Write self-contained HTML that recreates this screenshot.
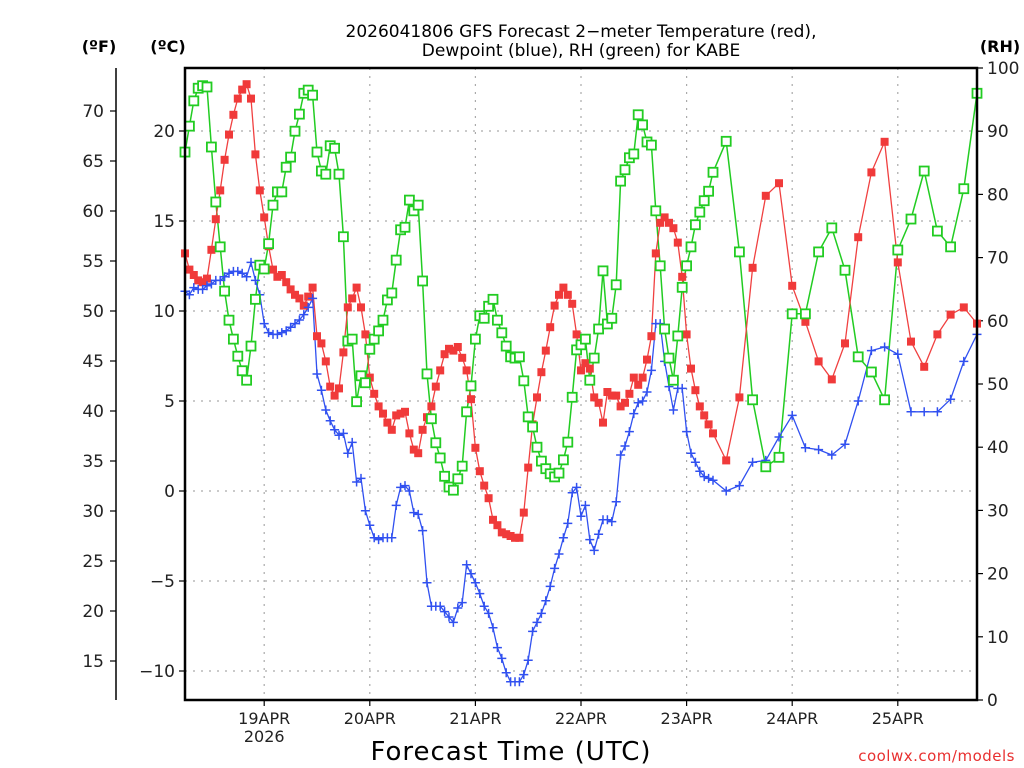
<!DOCTYPE html>
<html><head><meta charset="utf-8">
<style>
html,body{margin:0;padding:0;background:#fff;}
svg{display:block;font-family:"DejaVu Sans","Liberation Sans",sans-serif;}
</style></head>
<body>
<svg id="chart" width="1024" height="768" viewBox="0 0 1024 768" xmlns="http://www.w3.org/2000/svg">
<rect width="1024" height="768" fill="#fff"/>
<text x="581" y="37" font-size="17" text-anchor="middle" fill="#000">2026041806 GFS Forecast 2−meter Temperature (red),</text>
<text x="581" y="56" font-size="17" text-anchor="middle" fill="#000">Dewpoint (blue), RH (green) for KABE</text>
<text x="99" y="52" font-size="16" font-weight="bold" text-anchor="middle">(ºF)</text>
<text x="168" y="52" font-size="16" font-weight="bold" text-anchor="middle">(ºC)</text>
<text x="1000" y="52" font-size="16" font-weight="bold" text-anchor="middle">(RH)</text>
<text x="511" y="760" font-size="26" text-anchor="middle" letter-spacing="1">Forecast Time (UTC)</text>
<text x="1015" y="761" font-size="15" text-anchor="end" fill="#e83030" letter-spacing="0.5">coolwx.com/models</text>
<g id="grid"></g>
<g id="axes"></g>
<g id="series"></g>
<rect x="185" y="68" width="792" height="632" fill="none" stroke="#000" stroke-width="2.5"/>
</svg>
<script>
const hourlyCount = 121;
const threeHourlyHours = [123,126,129,132,135,138,141,144,147,150,153,156,159,162,165,168,171,174,177,180];
const temperatureC = [13.2,12.3,12.0,11.7,11.6,11.8,13.4,15.1,16.7,18.4,
19.8,20.9,21.8,22.3,22.6,21.8,18.7,16.7,15.2,13.6,
12.3,11.9,12.0,11.6,11.2,10.9,10.7,10.3,10.8,11.3,
8.6,8.2,7.2,5.8,5.3,5.7,7.7,10.2,10.7,11.3,
10.2,8.7,6.3,5.4,4.7,4.3,3.8,3.4,4.2,4.3,
4.4,3.2,2.3,2.1,3.4,4.1,4.7,5.8,6.7,7.6,
7.9,7.8,8.0,7.4,6.7,5.1,2.4,1.1,0.3,-0.4,
-1.6,-1.9,-2.3,-2.4,-2.5,-2.6,-2.6,-1.2,1.3,3.7,
5.2,6.6,7.8,9.1,10.3,10.9,11.3,10.9,10.4,8.7,
6.7,7.1,6.8,5.2,4.9,3.8,5.5,5.3,5.3,4.7,
4.9,5.4,6.3,5.9,6.3,7.3,8.6,13.2,14.9,15.2,
14.9,14.6,13.8,11.9,8.7,6.8,5.6,4.7,4.2,3.7,
3.2,
1.7,5.2,12.4,16.4,17.1,11.4,9.4,7.2,6.2,8.2,14.1,17.7,19.4,12.7,8.3,6.9,8.7,9.8,10.2,9.3];
const dewpointC = [11.1,10.9,11.3,11.2,11.2,11.4,11.5,11.7,11.7,11.9,
12.1,12.2,12.2,12.1,11.9,12.7,11.7,10.9,9.3,8.8,
8.7,8.7,8.8,8.9,9.1,9.3,9.5,9.8,10.2,10.7,
6.5,5.6,4.5,3.9,3.4,3.1,3.2,2.1,2.7,0.5,
0.7,-1.1,-1.9,-2.6,-2.7,-2.6,-2.6,-2.6,-0.8,0.2,
0.3,0.0,-1.2,-1.3,-2.2,-5.1,-6.4,-6.4,-6.4,-6.7,
-7.0,-7.3,-6.5,-6.2,-4.1,-4.6,-5.1,-5.7,-6.4,-6.8,
-7.6,-8.7,-9.3,-10.1,-10.6,-10.6,-10.6,-10.2,-9.4,-7.8,
-7.3,-6.8,-6.1,-5.3,-4.3,-3.5,-2.6,-1.8,-0.1,0.2,
-1.4,-0.8,-2.7,-3.3,-2.4,-1.6,-1.6,-1.7,-0.6,2.0,
2.5,3.3,4.3,4.9,5.0,5.5,6.7,9.3,9.3,7.2,
5.8,4.5,5.7,5.7,3.3,2.1,1.6,1.1,0.8,0.7,
0.6,
0.0,0.3,1.6,1.7,3.0,4.2,2.4,2.3,2.0,2.6,5.0,7.8,8.0,7.6,4.4,4.4,4.4,5.1,7.2,8.7];
const relHumidity = [86.7,90.8,94.8,96.8,97.2,97.0,87.5,78.8,71.7,64.7,
60.1,57.1,54.4,52.1,50.6,56.0,63.4,68.8,68.2,72.2,
78.3,80.4,80.4,84.3,85.9,90.0,92.7,96.0,96.5,95.7,
86.7,83.7,83.2,87.7,87.3,83.2,73.3,56.8,57.1,47.2,
51.3,50.2,55.5,57.1,58.4,60.1,63.3,64.4,69.6,74.4,
74.8,79.1,77.4,78.3,66.3,51.6,44.5,40.7,38.3,35.4,
33.7,33.2,35.0,37.0,45.6,49.7,57.1,60.8,60.4,62.3,
63.4,60.1,58.1,56.0,54.3,54.1,54.3,50.5,44.8,43.2,
40.0,37.8,36.6,35.8,35.3,35.9,38.0,40.8,47.9,55.4,
56.2,57.1,50.6,54.1,58.7,67.9,59.5,60.4,65.7,82.1,
83.9,85.8,86.4,92.6,91.0,88.3,87.8,77.4,68.7,58.7,
54.1,50.6,57.6,65.3,68.7,71.7,75.2,77.2,79.0,80.5,
83.5,
88.4,70.9,47.5,36.9,38.4,61.1,61.1,70.9,74.7,68.0,54.3,51.9,47.5,71.2,76.1,83.7,74.2,71.7,80.9,96.0];
const celsiusTicks = [-10,-5,0,5,10,15,20];
const fahrenheitTicks = [15,20,25,30,35,40,45,50,55,60,65,70];
const rhTicks = [0,10,20,30,40,50,60,70,80,90,100];
const dayLabels = ["19APR","20APR","21APR","22APR","23APR","24APR","25APR"];
const dayHours = [18,42,66,90,114,138,162];

const hours = [];
for (let i = 0; i < hourlyCount; i++) hours.push(i);
threeHourlyHours.forEach(h => hours.push(h));

const X0 = 185, X1 = 977, Y0 = 68, Y1 = 700;
function xScale(h){ return X0 + h * (X1 - X0) / 180; }
function yC(c){ return 491 - c * 18; }
function yF(f){ return yC((f - 32) * 5 / 9); }
function yRH(r){ return Y1 - r * (Y1 - Y0) / 100; }

const NS = "http://www.w3.org/2000/svg";
function mk(tag, attrs, parent){
  const e = document.createElementNS(NS, tag);
  for (const k in attrs) e.setAttribute(k, attrs[k]);
  parent.appendChild(e);
  return e;
}
const grid = document.getElementById('grid');
const axes = document.getElementById('axes');
const series = document.getElementById('series');

celsiusTicks.forEach(c => {
  const y = yC(c);
  const g = mk('line', {x1:X0, x2:X1, y1:y, y2:y, stroke:'#aaa', 'stroke-width':1.2, 'stroke-dasharray':'2,6'}, grid);
  
  
  const t = mk('line', {x1:X0-6, x2:X0, y1:y, y2:y, stroke:'#000', 'stroke-width':1.2}, axes);
  
  
  const l = mk('text', {x:X0-10, y:y+6, 'font-size':17, 'text-anchor':'end', fill:'#222'}, axes);
  l.textContent = c < 0 ? '\u2212' + Math.abs(c) : String(c);
  
  
});
dayHours.forEach((h, i) => {
  const x = xScale(h);
  const g = mk('line', {x1:x, x2:x, y1:Y0, y2:Y1, stroke:'#aaa', 'stroke-width':1.2, 'stroke-dasharray':'2,6'}, grid);
  
  
  const t = mk('line', {x1:x, x2:x, y1:Y1, y2:Y1+6, stroke:'#000', 'stroke-width':1.2}, axes);
  
  
  const l = mk('text', {x:x, y:Y1+24, 'font-size':16, 'text-anchor':'middle', fill:'#222'}, axes);
  l.textContent = dayLabels[i];
  
  
});
const yr = mk('text', {x:xScale(dayHours[0]), y:Y1+42, 'font-size':16, 'text-anchor':'middle', fill:'#222'}, axes);
yr.textContent = '2026';



const fAxis = mk('line', {x1:116, x2:116, y1:Y0, y2:Y1, stroke:'#000', 'stroke-width':1.5}, axes);


fahrenheitTicks.forEach(f => {
  const y = yF(f);
  const t = mk('line', {x1:110, x2:116, y1:y, y2:y, stroke:'#000', 'stroke-width':1.2}, axes);
  
  
  const l = mk('text', {x:104, y:y+6, 'font-size':17, 'text-anchor':'end', fill:'#222'}, axes);
  l.textContent = String(f);
  
  
});
rhTicks.forEach(r => {
  const y = yRH(r);
  const t = mk('line', {x1:X1, x2:X1+6, y1:y, y2:y, stroke:'#000', 'stroke-width':1.2}, axes);
  
  
  const l = mk('text', {x:X1+10, y:y+6, 'font-size':17, 'text-anchor':'start', fill:'#222'}, axes);
  l.textContent = String(r);
  
  
});

function pts(vals, ys){ return vals.map((v, i) => xScale(hours[i]).toFixed(1) + ',' + ys(v).toFixed(1)).join(' '); }

// RH (green)
const gLine = mk('polyline', {points:pts(relHumidity, yRH), fill:'none', stroke:'#22cc22', 'stroke-width':1.5}, series);


// Temperature (red)
const rLine = mk('polyline', {points:pts(temperatureC, yC), fill:'none', stroke:'#f04040', 'stroke-width':1.3}, series);


// Dewpoint (blue)
const bLine = mk('polyline', {points:pts(dewpointC, yC), fill:'none', stroke:'#3050f0', 'stroke-width':1.3}, series);



temperatureC.forEach((v, i) => {
  const x = xScale(hours[i]), y = yC(v);
  const m = mk('rect', {x:x-4, y:y-4, width:8, height:8, fill:'#f03a3a'}, series);
  
  
});
dewpointC.forEach((v, i) => {
  const x = xScale(hours[i]), y = yC(v);
  const m = mk('path', {d:`M${x-4.5},${y}H${x+4.5}M${x},${y-4.5}V${y+4.5}`, stroke:'#3050f0', 'stroke-width':1.5, fill:'none'}, series);
  
  
});
relHumidity.forEach((v, i) => {
  const x = xScale(hours[i]), y = yRH(v);
  const m = mk('rect', {x:x-4.5, y:y-4.5, width:9, height:9, fill:'#fff', stroke:'#22cc22', 'stroke-width':1.8}, series);
  
  
});
</script>
</body></html>
